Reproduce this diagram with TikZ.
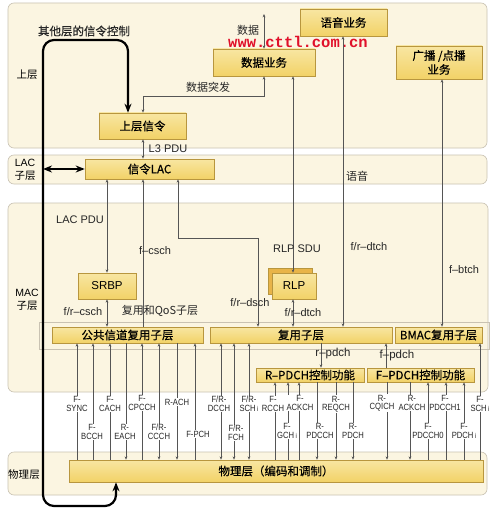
\documentclass[tikz,border=0pt]{standalone}
\usepackage{fontspec}
\setmainfont{Liberation Sans}
\newfontfamily\cjk{Noto Sans CJK SC}
\newfontfamily\cjkb[FakeBold=0.5]{Noto Sans CJK SC}
\newfontfamily\chanfont[FakeStretch=0.85]{Liberation Sans}
\newfontfamily\wmfont{Liberation Mono}
\usetikzlibrary{arrows.meta}
\definecolor{bandfill}{HTML}{FBF5E1}
\definecolor{banddraw}{HTML}{C9C2B2}
\definecolor{boxtop}{HTML}{F8E6A2}
\definecolor{boxbot}{HTML}{F2D267}
\definecolor{boxdraw}{HTML}{B8963E}
\definecolor{rlpback}{HTML}{E8B448}
\definecolor{linec}{HTML}{555555}
\definecolor{wmred}{HTML}{E0102A}
\newcommand\chline[4]{\draw[conn,#4] (#1.south -| #3,0) -- (#2.north -| #3,0);}
\begin{document}
\begin{tikzpicture}[x=1pt,y=-1pt,
  band/.style={draw=banddraw, fill=bandfill, rounded corners=6pt, line width=0.6pt},
  box/.style={draw=boxdraw, top color=boxtop, bottom color=boxbot, line width=0.6pt, inner sep=0pt, align=center,
     font=\cjkb\fontsize{11.5}{14}\selectfont},
  conn/.style={draw=linec, line width=0.5pt, >={Stealth[length=3.4pt,width=2.8pt]}},
  lbl/.style={font=\fontsize{11}{12}\selectfont, text=black!85, inner sep=0.5pt},
  clbl/.style={font=\chanfont\fontsize{9}{8.5}\selectfont, fill=white, inner sep=0.4pt, align=center, text=black!85},
  lay/.style={font=\cjk\fontsize{10.5}{12}\selectfont, inner sep=0pt},
  big/.style={line width=2.2pt, black, >={Stealth[length=9pt,width=7pt]}}]
\useasboundingbox (0,0) rectangle (500,516);
\fill[white] (0,0) rectangle (500,516);
% bands
\draw[band] (8,3) rectangle (487,148);
\draw[band] (8,155) rectangle (487,184);
\draw[band] (8,203) rectangle (488,392);
\draw[band] (8,452) rectangle (487,495);
\draw[draw=banddraw, line width=0.6pt] (39,322) rectangle (489,349);
% layer labels
\node[lay] (L1) at (27,75) {上层};
\node[lay, font=\fontsize{10.5}{12}\selectfont] (L2a) at (25,163) {LAC};
\node[lay] (L2b) at (25,176) {子层};
\node[lay, font=\fontsize{10.5}{12}\selectfont] (L3a) at (27,293) {MAC};
\node[lay] (L3b) at (27,306) {子层};
\node[lay] (L4) at (24,475) {物理层};
% boxes
\node[box, minimum width=87pt, minimum height=27pt] (voice) at (343.5,22.5) {语音业务};
\node[box, minimum width=102pt, minimum height=27pt] (data) at (264,62.5) {数据业务};
\node[box, minimum width=86pt, minimum height=33pt] (bcast) at (439,62.5) {广播 /点播\\业务};
\node[box, minimum width=87pt, minimum height=26pt] (ulsig) at (142.5,126) {上层信令};
\node[box, minimum width=129pt, minimum height=20pt] (lac) at (149.5,169) {信令LAC};
\node[box, minimum width=58pt, minimum height=26pt, font=\fontsize{11.5}{13}\selectfont] (srbp) at (107,286) {SRBP};
\node[box, top color=rlpback, bottom color=rlpback, minimum width=44pt, minimum height=26pt] (rlpb) at (290,281) {};
\node[box, minimum width=44pt, minimum height=26pt, font=\fontsize{11.5}{13}\selectfont] (rlp) at (294,286) {RLP};
\node[box, minimum width=151pt, minimum height=16pt] (cmux) at (127.5,335) {公共信道复用子层};
\node[box, minimum width=182pt, minimum height=16pt] (mux) at (301,335) {复用子层};
\node[box, minimum width=87pt, minimum height=16pt] (bmac) at (438.5,335) {BMAC复用子层};
\node[box, minimum width=108pt, minimum height=14pt] (rpdch) at (310,375) {R–PDCH控制功能};
\node[box, minimum width=107pt, minimum height=14pt] (fpdch) at (420.5,375) {F–PDCH控制功能};
\node[box, minimum width=414pt, minimum height=22pt] (phy) at (276,471) {物理层（编码和调制）};
% upper connectors
\coordinate (dtop) at (264,14);
\draw[conn,<->] (dtop) -- (data.north);
\node[lbl, font=\cjk\fontsize{11}{12}\selectfont] (tdata) at (248,30) {数据};
\node[font=\wmfont\bfseries\fontsize{15.5}{16}\selectfont, text=wmred, inner sep=0pt] (wm) at (298,42) {www.cttl.com.cn};
\draw[conn,<->] (data.south) -- (264,96) -- (143,96) -- (ulsig.north -| 143,0);
\node[lbl, font=\cjk\fontsize{11}{12}\selectfont] (tburst) at (208,87) {数据突发};
\draw[conn,<->] (ulsig.south -| 143,0) -- (lac.north -| 143,0);
\node[lbl] (tl3) at (168,149) {L3 PDU};
\draw[conn,<->] (data.south -| 293,0) -- (rlp.north -| 293,0);
\node[lbl] (trlpsdu) at (297,249) {RLP SDU};
\draw[conn,<->] (rlp.south -| 293,0) -- (mux.north -| 293,0);
\node[lbl] (tdtch1) at (303,313) {f/r–dtch};
\draw[conn,<->] (voice.south -| 343,0) -- (mux.north -| 343,0);
\node[lbl, font=\cjk\fontsize{11}{12}\selectfont, fill=bandfill] (tvoice) at (357,176) {语音};
\node[lbl] (tdtch2) at (369,247) {f/r–dtch};
\draw[conn,<->] (bcast.south -| 442,0) -- (bmac.north -| 442,0);
\node[lbl] (tbtch) at (464,270) {f–btch};
\draw[conn,<->] (lac.south -| 107,0) -- (srbp.north -| 107,0);
\node[lbl] (tlacpdu) at (80,220) {LAC PDU};
\draw[conn,<->] (srbp.south -| 107,0) -- (cmux.north -| 107,0);
\node[lbl] (tcsch2) at (83,312) {f/r–csch};
\draw[conn,<-] (lac.south -| 143,0) -- (cmux.north -| 143,0);
\node[lbl] (tcsch) at (155,251) {f–csch};
\draw[conn,<->] (lac.south -| 178,0) -- (178,238) -- (258,238) -- (mux.north -| 258,0);
\node[lbl] (tdsch) at (250,303) {f/r–dsch};
\node[lbl, font=\cjk\fontsize{11}{12}\selectfont] (tqos) at (160,311) {复用和QoS子层};
\draw[conn,->] (mux.south -| 321,0) -- (rpdch.north -| 321,0);
\node[lbl, font=\fontsize{11.5}{12}\selectfont] (trp) at (333,354) {r–pdch};
\draw[conn,<-] (mux.south -| 386,0) -- (fpdch.north -| 386,0);
\node[lbl, font=\fontsize{11.5}{12}\selectfont] (tfp) at (397,356) {f–pdch};
% channel lines
\chline{cmux}{phy}{77}{<-}
\chline{cmux}{phy}{93}{<-}
\chline{cmux}{phy}{110}{<-}
\chline{cmux}{phy}{126}{->}
\chline{cmux}{phy}{142}{<-}
\chline{cmux}{phy}{159}{<->}
\chline{cmux}{phy}{177}{->}
\chline{cmux}{phy}{195}{<-}
\chline{mux}{phy}{221}{<->}
\chline{mux}{phy}{234}{<->}
\chline{mux}{phy}{249}{<->}
\chline{rpdch}{phy}{275}{<-}
\chline{rpdch}{phy}{288}{<-}
\chline{rpdch}{phy}{299}{<-}
\chline{rpdch}{phy}{317}{->}
\chline{rpdch}{phy}{336}{->}
\chline{rpdch}{phy}{353}{->}
\chline{fpdch}{phy}{387}{->}
\chline{fpdch}{phy}{410}{->}
\chline{fpdch}{phy}{428}{<-}
\chline{fpdch}{phy}{446}{<-}
\chline{fpdch}{phy}{464}{<-}
\chline{bmac}{phy}{480}{<-}
% channel labels row 1
\node[clbl] (c1) at (77,404) {F-\\SYNC};
\node[clbl] (c3) at (110,404) {F-\\CACH};
\node[clbl] (c5) at (142,403) {F-\\CPCCH};
\node[clbl] (c7) at (177,402) {R-ACH};
\node[clbl] (c9) at (219,404) {F/R-\\DCCH};
\node[clbl] (c11) at (249,404) {F/R-\\SCH\,{\fontsize{7}{7}\selectfont i}};
\node[clbl] (c12) at (273,404) {F-\\RCCH};
\node[clbl] (c14) at (300,403) {F-\\ACKCH};
\node[clbl] (c16) at (336,404) {R-\\REQCH};
\node[clbl] (c18) at (382,403) {R-\\CQICH};
\node[clbl] (c19) at (412,403) {R-\\ACKCH};
\node[clbl] (c21) at (445,403) {F-\\PDCCH1};
\node[clbl] (c23) at (480,404) {F-\\SCH\,{\fontsize{7}{7}\selectfont i}};
% channel labels row 2
\node[clbl] (c2) at (92,432) {F-\\BCCH};
\node[clbl] (c4) at (125,432) {R-\\EACH};
\node[clbl] (c6) at (159,432) {F/R-\\CCCH};
\node[clbl] (c8) at (198,434) {F-PCH};
\node[clbl] (c10) at (236,433) {F/R-\\FCH};
\node[clbl] (c13) at (287,431) {F-\\GCH\,{\fontsize{7}{7}\selectfont i}};
\node[clbl] (c15) at (320,431) {R-\\PDCCH};
\node[clbl] (c17) at (353,431) {R-\\PDCH};
\node[clbl] (c20) at (428,431) {F-\\PDCCH0};
\node[clbl] (c22) at (464,431) {F-\\PDCH\,{\fontsize{7}{7}\selectfont i}};
% thick signalling control arrow
\node[lbl, font=\cjkb\fontsize{11.5}{12}\selectfont] (tother) at (84,31) {其他层的信令控制};
\draw[big,<->,rounded corners=11pt] (phy.south -| 116,0) -- (116,506) -- (43,506) -- (43,40) -- (128,40) -- (ulsig.north -| 128,0);
\coordinate (blk) at (43,169);
\draw[big,<->] (blk) -- (lac.west);
\end{tikzpicture}
\end{document}
